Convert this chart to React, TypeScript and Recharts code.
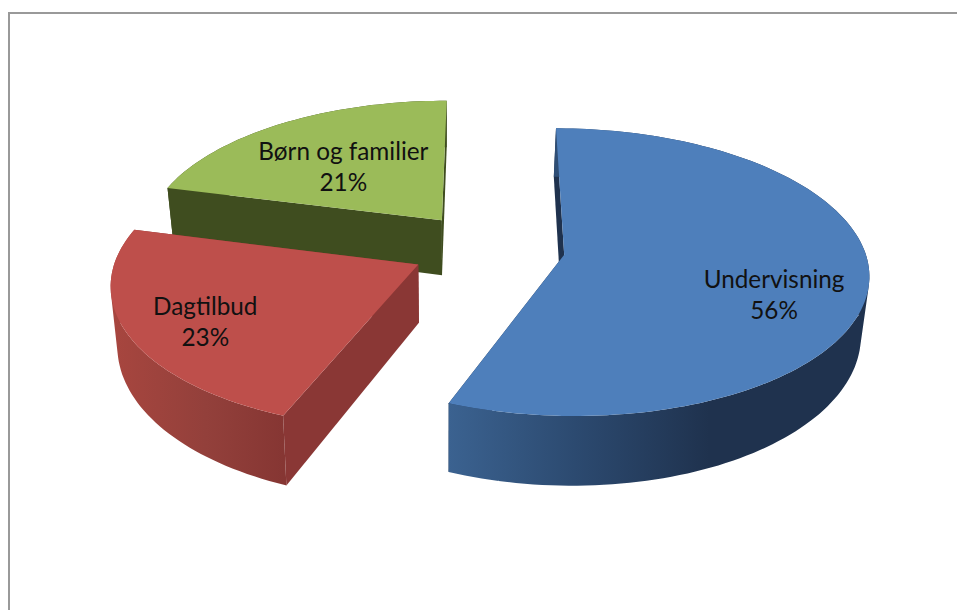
import React from 'react'
import { PieChart, Pie } from 'recharts'

// slices in drawing order: the green one sits behind the red one
const names = ['Børn og familier', 'Undervisning', 'Dagtilbud']
const shares = [21, 56, 23]
const tops = ['#9bbb59', '#4e7fbb', '#be4f4b']

const pieData = names.map((name, i) => ({ name, value: shares[i], fill: tops[i] }))

// look of the tilted pie
const SQUASH = 0.467
const PERSPECTIVE = 0.12
const EXPLODE = 0.257
const DEPTH = 57
const BASE_SHRINK = 0.98
const VANISH_X = 447

const sideColor: Record<string, string> = {
  'Børn og familier': '#3f4d1f',
  Undervisning: '#1f324e',
  Dagtilbud: '#8a3735',
}
const wallStops: Record<string, [number, string][]> = {
  'Børn og familier': [[0, '#3f4d1f'], [1, '#3f4d1f']],
  Undervisning: [[0, '#3b6290'], [0.3, '#2c4a70'], [0.62, '#1f324e'], [1, '#1f324e']],
  Dagtilbud: [[0, '#a8463f'], [0.55, '#93403b'], [1, '#863633']],
}
const labelSpot: Record<string, { r: number; dy: number }> = {
  'Børn og familier': { r: 0.85, dy: 6 },
  Undervisning: { r: 0.95, dy: 22 },
  Dagtilbud: { r: 1.0, dy: 7 },
}

const RAD = Math.PI / 180

type Pt = { x: number; y: number }

function project(cx: number, cy: number, R: number, u: number, v: number) {
  const s = 1 / (1 - PERSPECTIVE * v)
  return { x: cx + R * u * s, y: cy + R * SQUASH * v * s, s }
}

const line = (pts: Pt[]) =>
  pts.map((p, i) => `${i ? 'L' : 'M'}${p.x.toFixed(1)},${p.y.toFixed(1)}`).join('') + 'Z'

// all quads wound the same way, so a nonzero fill merges them without seams
function wound(pts: Pt[]) {
  let area = 0
  pts.forEach((p, i) => {
    const q = pts[(i + 1) % pts.length]
    area += p.x * q.y - q.x * p.y
  })
  return area < 0 ? [...pts].reverse() : pts
}

function SliceShape(props: any) {
  const { cx, cy, outerRadius: R, startAngle, endAngle, midAngle, name, fill } = props
  const ox = Math.cos(midAngle * RAD) * EXPLODE
  const oy = -Math.sin(midAngle * RAD) * EXPLODE

  const topAt = (u: number, v: number) => project(cx, cy, R, ox + u, oy + v)
  const baseOf = (p: { x: number; y: number; s: number }) => ({
    x: VANISH_X + (p.x - VANISH_X) * BASE_SHRINK,
    y: p.y + DEPTH * Math.pow(p.s, 1.5),
  })

  const lo = Math.min(startAngle, endAngle)
  const hi = Math.max(startAngle, endAngle)
  const rim: { x: number; y: number; s: number }[] = []
  for (let a = lo; a < hi; a += 1.5) {
    rim.push(topAt(Math.cos(a * RAD), -Math.sin(a * RAD)))
  }
  rim.push(topAt(Math.cos(hi * RAD), -Math.sin(hi * RAD)))

  const apex = topAt(0, 0)
  const first = rim[0]
  const last = rim[rim.length - 1]
  const gradId = 'wall-' + name.replace(/[^a-z]/gi, '')
  const xs = rim.map((p) => p.x)
  const wall = rim
    .slice(1)
    .map((p, i) => line(wound([rim[i], p, baseOf(p), baseOf(rim[i])])))
    .join('')

  return (
    <g>
      <defs>
        <linearGradient
          id={gradId}
          gradientUnits="userSpaceOnUse"
          x1={Math.min(...xs)}
          y1="0"
          x2={Math.max(...xs)}
          y2="0"
        >
          {wallStops[name].map(([o, c]) => (
            <stop key={o} offset={o} stopColor={c} />
          ))}
        </linearGradient>
      </defs>
      <path d={line([apex, first, baseOf(first), baseOf(apex)])} fill={sideColor[name]} />
      <path d={line([apex, last, baseOf(last), baseOf(apex)])} fill={sideColor[name]} />
      <path d={wall} fill={`url(#${gradId})`} fillRule="nonzero" />
      <path d={line([apex, ...rim])} fill={fill} />
    </g>
  )
}

function sliceLabel(props: any) {
  const { cx, cy, outerRadius: R, midAngle, name, value } = props
  const spot = labelSpot[name]
  const p = project(cx, cy, R, Math.cos(midAngle * RAD) * spot.r, -Math.sin(midAngle * RAD) * spot.r)
  return (
    <text x={p.x} y={p.y + spot.dy} textAnchor="middle" fontFamily="Lato" fontSize={24.3} fill="#111">
      <tspan x={p.x} dy={-7}>{name}</tspan>
      <tspan x={p.x} dy={31}>{value}%</tspan>
    </text>
  )
}

export default function App() {
  return (
    <div style={{ position: 'absolute', left: 0, top: 0, width: 957, height: 610, background: '#fff', overflow: 'hidden' }}>
      <div
        style={{
          position: 'absolute',
          left: 8,
          top: 12,
          width: 960,
          height: 610,
          borderLeft: '2px solid #999',
          borderTop: '2px solid #999',
        }}
      />
      <div style={{ position: 'absolute', left: 0, top: 0 }}>
        <PieChart width={957} height={610} margin={{ top: 0, right: 0, bottom: 0, left: 0 }}>
          <Pie
            data={pieData}
            dataKey="value"
            nameKey="name"
            cx={488}
            cy={248}
            outerRadius={300}
            startAngle={165.6}
            endAngle={-194.4}
            stroke="none"
            shape={SliceShape}
            label={sliceLabel}
            labelLine={false}
            isAnimationActive={false}
          />
        </PieChart>
      </div>
    </div>
  )
}
